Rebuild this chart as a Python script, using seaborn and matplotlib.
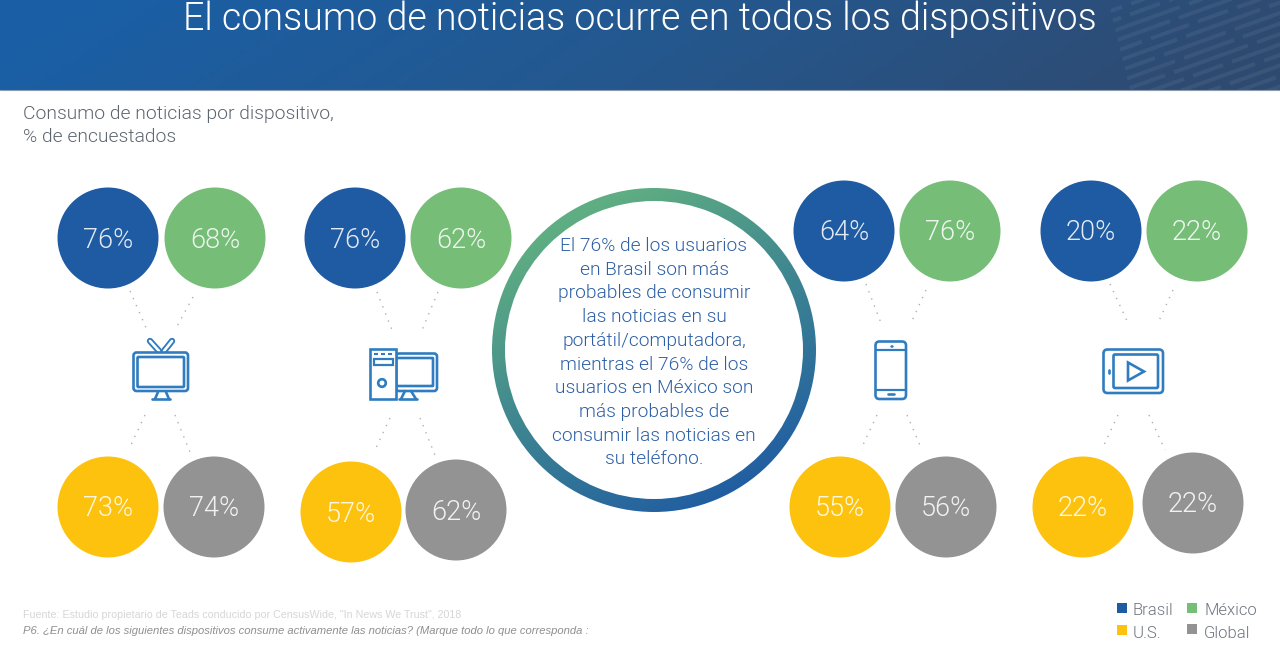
import numpy as np
import pandas as pd
import matplotlib
matplotlib.use("Agg")
import matplotlib.pyplot as plt
from matplotlib.colors import LinearSegmentedColormap
from matplotlib.patches import Rectangle, FancyBboxPatch, Circle, Polygon, Wedge
import seaborn as sns

# ---- data ----
devices = ["TV", "Computadora", "Teléfono", "Tableta"]
regions = ["Brasil", "México", "U.S.", "Global"]
brasil = [76, 76, 64, 20]
mexico = [68, 62, 76, 22]
us = [73, 57, 55, 22]
glob = [74, 62, 56, 22]
title = "El consumo de noticias ocurre en todos los dispositivos"
subtitle = ["Consumo de noticias por dispositivo,", "% de encuestados"]
callout = ["El 76% de los usuarios", "en Brasil son más", "probables de consumir",
           "las noticias en su", "portátil/computadora,", "mientras el 76% de los",
           "usuarios en México son", "más probables de",
           "consumir las noticias en", "su teléfono."]
source = "Fuente: Estudio propietario de Teads conducido por CensusWide, \"In News We Trust\", 2018"
question = "P6. ¿En cuál de los siguientes dispositivos consume activamente las noticias? (Marque todo lo que corresponda :"

# ---- layout (pixels) ----
px_x = {"Brasil": [108, 355, 844, 1091], "México": [215, 461, 950, 1197],
        "U.S.": [108, 351, 840, 1083], "Global": [214, 456, 946, 1193]}
px_y = {"Brasil": [238, 238, 231, 231], "México": [238, 238, 231, 231],
        "U.S.": [507, 512, 507, 507], "Global": [507, 510, 507, 503]}
palette = {"Brasil": "#1f5ba3", "México": "#76bd78", "U.S.": "#fdc20e", "Global": "#939393"}
series = {"Brasil": brasil, "México": mexico, "U.S.": us, "Global": glob}

sns.set_theme(style="white")
plt.rcParams["font.family"] = ["Liberation Sans", "DejaVu Sans"]
LIGHT = "Roboto"

fig = plt.figure(figsize=(12.8, 6.46), dpi=100)
ax = fig.add_axes([0, 0, 1, 1])
ax.set_xlim(0, 1280)
ax.set_ylim(646, 0)
ax.axis("off")

# header gradient
cmap = LinearSegmentedColormap.from_list("hdr", ["#1a5fa6", "#24588f", "#2f4a70"])
xx = np.linspace(0, 1, 256)
grad = np.vstack([xx + 0.10 * t for t in np.linspace(-0.5, 0.5, 20)])
ax.imshow(grad, extent=(0, 1280, 90, 0), cmap=cmap, vmin=0, vmax=1, aspect="auto", zorder=0)
ax.plot([0, 1280], [90.3, 90.3], color="#8a9bb0", lw=0.8, zorder=1)

# brick-like diagonal texture at the right of the header
clip = Polygon([(1108, 0), (1280, 0), (1280, 90), (1130, 90)], closed=True, transform=ax.transData)
dash_len = [62, 38, 74, 30, 50]
for i in range(18):
    x = 1060.0 + (i * 23) % 60
    y0 = -10 + i * 10.5
    k = i
    while x < 1300:
        L = dash_len[k % 5]
        seg, = ax.plot([x, x + L], [y0 + 0.36 * (1280 - x) - 40, y0 + 0.36 * (1280 - x - L) - 40],
                       color="#8fa0b5", alpha=0.13, lw=2.9, solid_capstyle="butt", zorder=1)
        seg.set_clip_path(clip)
        x += L + 9
        k += 2
ax.set_xlim(0, 1280)
ax.set_ylim(646, 0)

ax.text(640, 19, title, color="white", fontsize=27.1, family=LIGHT, weight=300,
        ha="center", va="center", zorder=3)
for t, y in zip(subtitle, [114, 137]):
    ax.text(23, y, t, color="#5e6670", fontsize=13.9, family=LIGHT, weight=300, va="center")

# dotted connectors
conn = [((130, 291), (147, 330)), ((193, 297), (175, 330)), ((145, 415), (130, 447)), ((175, 415), (190, 452)),
        ((377, 292), (392, 330)), ((438, 292), (422, 330)), ((390, 418), (375, 450)), ((420, 418), (435, 455)),
        ((866, 284), (881, 323)), ((926, 290), (911, 323)), ((877, 415), (862, 447)), ((907, 415), (922, 450)),
        ((1110, 284), (1128, 323)), ((1173, 290), (1158, 323)), ((1118, 415), (1103, 447)), ((1149, 415), (1165, 450))]
for a, b in conn:
    ax.plot([a[0], b[0]], [a[1], b[1]], color="#b0b0b0", lw=1.0, ls=(0, (1, 4.5)), zorder=1)

# bubbles
rows = []
for r in regions:
    for d, v, x, y in zip(devices, series[r], px_x[r], px_y[r]):
        rows.append({"region": r, "device": d, "value": v, "x": x, "y": y})
df = pd.DataFrame(rows)
sns.scatterplot(data=df, x="x", y="y", hue="region", palette=palette, s=(101 * 72 / 100) ** 2,
                linewidth=0, legend=False, ax=ax, zorder=2, alpha=1)
ax.set_xlabel("")
ax.set_ylabel("")
for _, row in df.iterrows():
    ax.text(row.x, row.y + 2, f"{row.value}%", color="white", fontsize=19.5, family=LIGHT, weight=300,
            ha="center", va="center", zorder=3, alpha=0.88)

# gradient ring
cx, cy, ro, ri = 654, 350, 162, 149
ycoord, xcoord = np.mgrid[0:1:200j, 0:1:200j]
ring_cmap = LinearSegmentedColormap.from_list("ring", ["#5fad82", "#3c8392", "#1f5ba3"])
im = ax.imshow(0.35 * xcoord + 0.65 * ycoord, extent=(cx - ro, cx + ro, cy + ro, cy - ro),
               cmap=ring_cmap, vmin=0.15, vmax=0.9, aspect="auto", zorder=2, origin="upper")
im.set_clip_path(Wedge((cx, cy), ro, 0, 360, width=ro - ri, transform=ax.transData))
ax.set_xlim(0, 1280)
ax.set_ylim(646, 0)
for i, t in enumerate(callout):
    ax.text(654, 246 + i * 23.7, t, color="#2d5fa5", fontsize=13.8, family=LIGHT, weight=300,
            ha="center", va="center", zorder=3)

# icons
IC = "#2f7dc0"
LW = 1.9
def rrect(x0, y0, x1, y1, r=3, fc="none", z=3):
    ax.add_patch(FancyBboxPatch((x0 + r, y0 + r), x1 - x0 - 2 * r, y1 - y0 - 2 * r,
                                boxstyle=f"round,pad={r},rounding_size={r}", fc=fc, ec=IC, lw=LW, zorder=z))
def ln(xs, ys, lw=LW, cap="round", color=IC, z=3):
    ax.plot(xs, ys, color=color, lw=lw, solid_capstyle=cap, zorder=z)

# TV
ln([159, 150], [351, 341], lw=4.6); ln([159, 150], [351, 341], lw=1.9, color="white", z=3.1)
ln([164, 172], [351, 341], lw=4.6); ln([164, 172], [351, 341], lw=1.9, color="white", z=3.1)
rrect(133.5, 352.5, 188, 391, fc="white", z=3.2)
rrect(137.5, 357, 184, 387, r=1, z=3.3)
ln([158, 155], [392, 399]); ln([166, 169], [392, 399]); ln([152, 170], [399, 399])
# PC
rrect(396, 353.5, 437, 391)
rrect(396, 358, 433, 386, r=0.5)
ax.add_patch(Rectangle((369.5, 349), 26.5, 50, fc="white", ec=IC, lw=LW, zorder=3))
ax.add_patch(Rectangle((374, 358.5), 19, 6, fc="none", ec=IC, lw=1.6, zorder=3))
for xa in (374, 381, 388):
    ln([xa, xa + 4], [354, 354], lw=1.5, cap="butt")
ax.add_patch(Circle((382, 383), 3.8, fc="none", ec=IC, lw=LW, zorder=3))
ln([405, 401], [391, 399]); ln([411, 416], [391, 399]); ln([399, 417], [399, 399])
# Phone
rrect(875.5, 341.5, 906, 399, r=4)
ln([875.5, 906], [350, 350], lw=1.6); ln([875.5, 906], [389.5, 389.5], lw=1.6)
ln([888, 894], [394, 394]); ln([890.5, 891.5], [346, 346], lw=1.8)
# Tablet
rrect(1103.5, 349.5, 1163, 393, r=4)
rrect(1113.5, 354.5, 1158, 388, r=1.5)
ax.add_patch(Polygon([(1128, 362.5), (1128, 380.5), (1144, 371.5)], closed=True, fc="none", ec=IC, lw=LW,
                     joinstyle="miter", zorder=3))
ln([1109, 1109], [370, 372.5], lw=1.9)

# footer
ax.text(23, 615.5, source, color="#d6d6d6", fontsize=7.67, family="Liberation Sans", va="center")
ax.text(23, 630.5, question, color="#8f8f8f", fontsize=8.1, family="Liberation Sans", style="italic", va="center")

# legend
leg = [("Brasil", 1117, 1133, 608, 610.5), ("México", 1187, 1204, 608, 610.5),
       ("U.S.", 1117, 1133, 629.5, 634), ("Global", 1187, 1204, 628.5, 633.5)]
for name, sx, tx, sy, ty in leg:
    ax.add_patch(Rectangle((sx, sy - 5), 10, 10, fc=palette[name], ec="none", zorder=3))
    ax.text(tx, ty, name, color="#6d7580", fontsize=12, family=LIGHT, weight=300, va="center")

fig.savefig("out.png", dpi=100)
